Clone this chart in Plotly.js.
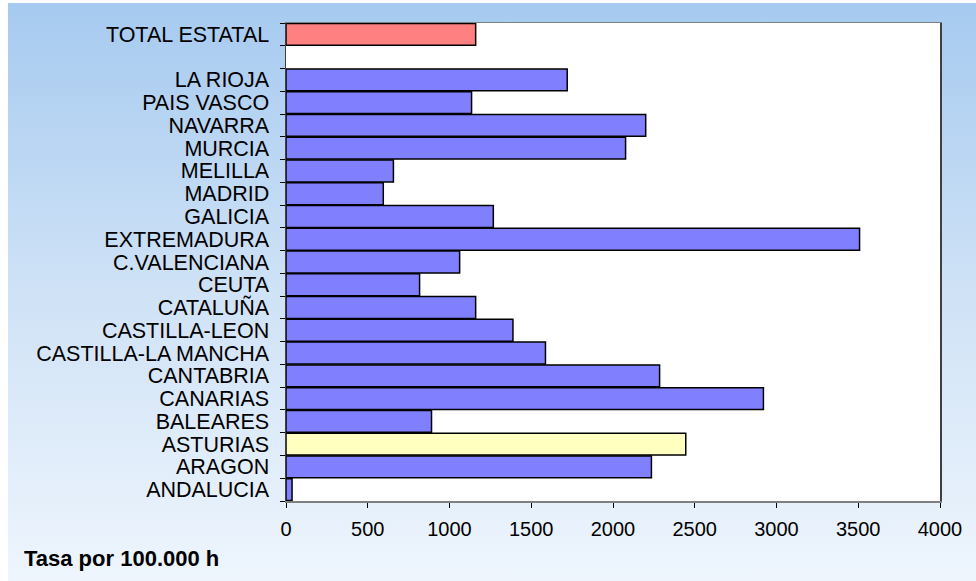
<!DOCTYPE html>
<html>
<head>
<meta charset="utf-8">
<script src="https://cdn.plot.ly/plotly-3.0.1.min.js"></script>
<style>
  html, body { margin: 0; padding: 0; background: #ffffff; }
  #wrap { position: relative; width: 976px; height: 581px; }
  #bg { position: absolute; left: 8px; top: 3px; width: 968px; height: 578px;
        background: linear-gradient(to bottom, #a6caf0 0%, #cfe2f6 50%, #eef5fd 100%); }
  #chart { position: absolute; left: 0; top: 0; width: 976px; height: 581px; }
</style>
</head>
<body>
<div id="wrap"><div id="bg"></div><div id="chart"></div></div>
<script>
// Categories, bottom to top (blank slot separates the total)
const categories = ["ANDALUCIA", "ARAGON", "ASTURIAS", "BALEARES", "CANARIAS", "CANTABRIA",
  "CASTILLA-LA MANCHA", "CASTILLA-LEON", "CATALUÑA", "CEUTA", "C.VALENCIANA", "EXTREMADURA",
  "GALICIA", "MADRID", "MELILLA", "MURCIA", "NAVARRA", "PAIS VASCO", "LA RIOJA", " ", "TOTAL ESTATAL"];
const values = [37, 2235, 2445, 890, 2920, 2285,
  1587, 1388, 1160, 817, 1062, 3508,
  1268, 595, 657, 2077, 2200, 1135, 1720, null, 1160];
const highlight = {"TOTAL ESTATAL": "#ff8080", "ASTURIAS": "#ffffc0"};
const baseColor = "#8080ff";
const xTicks = [0, 500, 1000, 1500, 2000, 2500, 3000, 3500, 4000];
const unitLabel = "Tasa por 100.000 h";

const colors = categories.map(c => highlight[c] || baseColor);
const font = "Liberation Sans, Arial, sans-serif";

const trace = {
  type: "bar", orientation: "h",
  y: categories, x: values,
  marker: { color: colors, line: { color: "#000000", width: 1.5 } },
  hoverinfo: "x+y"
};

const layout = {
  width: 976, height: 581,
  margin: { l: 286, r: 36, t: 23, b: 80 },
  paper_bgcolor: "rgba(0,0,0,0)",
  plot_bgcolor: "#ffffff",
  showlegend: false,
  bargap: 0.04,
  font: { family: font, size: 20, color: "#000000" },
  xaxis: {
    range: [0, 4000], tickvals: xTicks, ticktext: xTicks.map(String),
    showgrid: false, zeroline: false,
    showline: true, linecolor: "#808080", linewidth: 1.5, mirror: true,
    ticks: "outside", ticklen: 5, tickcolor: "#000000", tickwidth: 1,
    tickfont: { family: font, size: 20, color: "#000000" },
    ticklabelstandoff: 4
  },
  yaxis: {
    type: "category", categoryorder: "array", categoryarray: categories,
    range: [-0.5, categories.length - 0.5],
    tickmode: "linear", tick0: 0, dtick: 1,
    showgrid: false, zeroline: false,
    showline: true, linecolor: "#404040", linewidth: 1.5, mirror: true,
    ticks: "outside", ticklen: 5, tickcolor: "#000000", tickwidth: 1,
    tickson: "boundaries",
    tickfont: { family: font, size: 21.5, color: "#000000" },
    ticklabelstandoff: 11
  },
  annotations: [{
    text: "<b>" + unitLabel + "</b>", xref: "paper", yref: "paper",
    x: (22 - 286) / 654, y: (501 - 558) / 478, xanchor: "left", yanchor: "middle",
    showarrow: false, font: { family: font, size: 22, color: "#000000" }
  }]
};

Plotly.newPlot("chart", [trace], layout, { displayModeBar: false, staticPlot: true });
</script>
</body>
</html>
